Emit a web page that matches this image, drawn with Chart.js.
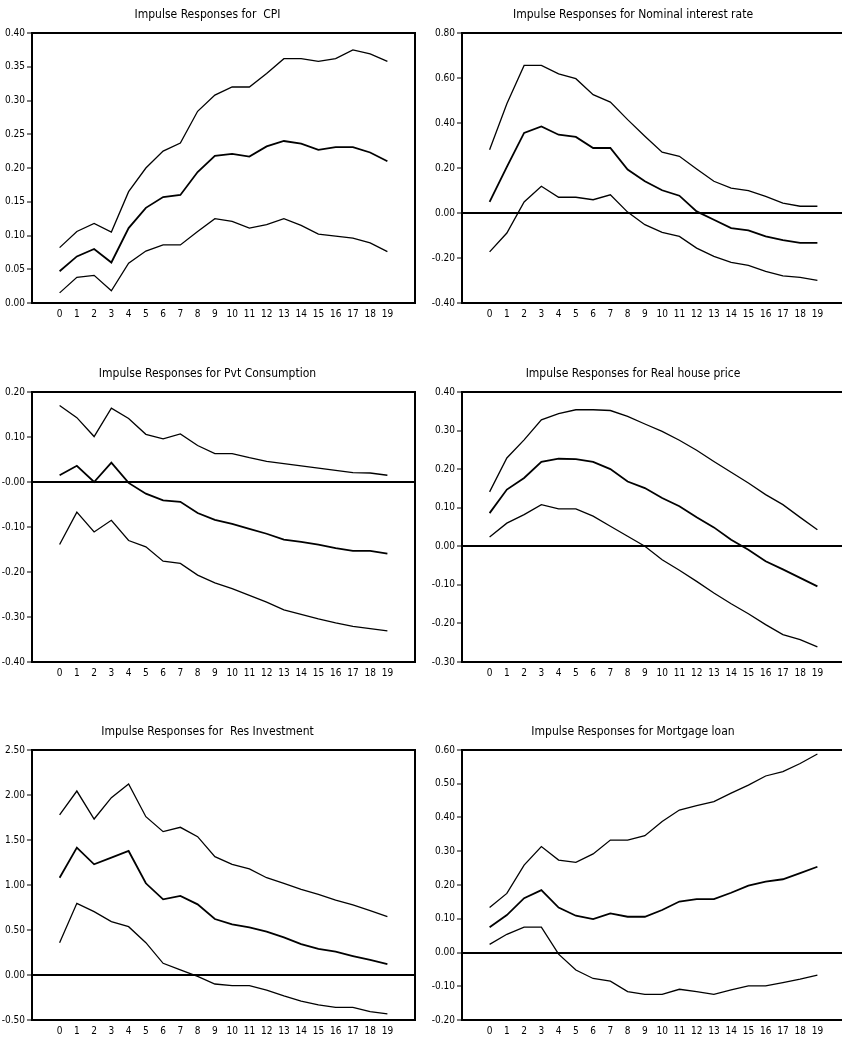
<!DOCTYPE html>
<html><head><meta charset="utf-8">
<script src="https://cdn.jsdelivr.net/npm/chart.js@4/dist/chart.umd.min.js"></script>
<style>
html,body{margin:0;padding:0;background:#fff;overflow:hidden;width:842px;height:1043px;position:relative;}
canvas{position:absolute;}
</style></head><body>
<canvas id="c1" style="left:0;top:0" width="421" height="326"></canvas>
<canvas id="c2" style="left:421px;top:0" width="430" height="326"></canvas>
<canvas id="c3" style="left:0;top:359px" width="421" height="326"></canvas>
<canvas id="c4" style="left:421px;top:359px" width="430" height="326"></canvas>
<canvas id="c5" style="left:0;top:717px" width="421" height="326"></canvas>
<canvas id="c6" style="left:421px;top:717px" width="430" height="326"></canvas>
<script>
const horizons = [0,1,2,3,4,5,6,7,8,9,10,11,12,13,14,15,16,17,18,19];
const xTickLabels = ['0','1','2','3','4','5','6','7','8','9','10','11','12','13','14','15','16','17','18','19'];

const cpiUpper = [0.082,0.106,0.118,0.105,0.165,0.200,0.225,0.237,0.284,0.308,0.320,0.320,0.340,0.362,0.362,0.358,0.362,0.375,0.369,0.358];
const cpiMid   = [0.047,0.069,0.080,0.060,0.111,0.141,0.157,0.160,0.194,0.218,0.221,0.217,0.232,0.240,0.236,0.227,0.231,0.231,0.223,0.210];
const cpiLower = [0.015,0.038,0.041,0.018,0.059,0.077,0.086,0.086,0.106,0.125,0.121,0.111,0.116,0.125,0.115,0.102,0.099,0.096,0.089,0.076];
const cpiTicks = [0,0.05,0.10,0.15,0.20,0.25,0.30,0.35,0.40];
const cpiTickLabels = ['0.00','0.05','0.10','0.15','0.20','0.25','0.30','0.35','0.40'];

const rateUpper = [0.281,0.486,0.656,0.656,0.618,0.597,0.526,0.493,0.415,0.341,0.270,0.252,0.196,0.141,0.111,0.099,0.074,0.044,0.030,0.030];
const rateMid   = [0.049,0.205,0.356,0.385,0.348,0.338,0.289,0.289,0.193,0.141,0.101,0.077,0.007,-0.030,-0.067,-0.077,-0.104,-0.121,-0.133,-0.133];
const rateLower = [-0.173,-0.089,0.049,0.119,0.070,0.070,0.059,0.081,0.004,-0.052,-0.086,-0.104,-0.156,-0.193,-0.219,-0.233,-0.259,-0.279,-0.286,-0.299];
const rateTicks = [-0.4,-0.2,0,0.2,0.4,0.6,0.8];
const rateTickLabels = ['-0.40','-0.20','0.00','0.20','0.40','0.60','0.80'];

const consUpper = [0.170,0.143,0.101,0.164,0.141,0.106,0.096,0.107,0.081,0.063,0.063,0.054,0.046,0.041,0.036,0.031,0.026,0.021,0.020,0.015];
const consMid   = [0.015,0.036,0.000,0.043,-0.002,-0.026,-0.041,-0.044,-0.069,-0.084,-0.093,-0.104,-0.115,-0.128,-0.133,-0.139,-0.147,-0.153,-0.153,-0.159];
const consLower = [-0.139,-0.067,-0.111,-0.085,-0.130,-0.144,-0.176,-0.181,-0.207,-0.224,-0.237,-0.252,-0.267,-0.284,-0.294,-0.304,-0.313,-0.321,-0.326,-0.331];
const consTicks = [-0.4,-0.3,-0.2,-0.1,0,0.1,0.2];
const consTickLabels = ['-0.40','-0.30','-0.20','-0.10','-0.00','0.10','0.20'];

const houseUpper = [0.141,0.229,0.276,0.328,0.344,0.354,0.354,0.352,0.337,0.317,0.298,0.275,0.249,0.220,0.192,0.164,0.134,0.108,0.075,0.043];
const houseMid   = [0.086,0.147,0.177,0.219,0.227,0.226,0.219,0.200,0.168,0.151,0.125,0.104,0.075,0.049,0.017,-0.009,-0.039,-0.060,-0.082,-0.104];
const houseLower = [0.024,0.060,0.082,0.108,0.097,0.097,0.078,0.052,0.026,0.000,-0.035,-0.062,-0.091,-0.121,-0.149,-0.175,-0.203,-0.229,-0.242,-0.261];
const houseTicks = [-0.3,-0.2,-0.1,0,0.1,0.2,0.3,0.4];
const houseTickLabels = ['-0.30','-0.20','-0.10','0.00','0.10','0.20','0.30','0.40'];

const invUpper = [1.78,2.044,1.733,1.970,2.122,1.759,1.593,1.641,1.537,1.315,1.230,1.178,1.081,1.019,0.952,0.896,0.833,0.778,0.715,0.648];
const invMid   = [1.081,1.415,1.230,1.304,1.378,1.019,0.841,0.878,0.785,0.622,0.563,0.530,0.481,0.419,0.344,0.289,0.259,0.211,0.167,0.122];
const invLower = [0.359,0.796,0.704,0.593,0.537,0.359,0.130,0.056,-0.015,-0.100,-0.119,-0.119,-0.167,-0.233,-0.289,-0.333,-0.359,-0.359,-0.407,-0.433];
const invTicks = [-0.5,0,0.5,1.0,1.5,2.0,2.5];
const invTickLabels = ['-0.50','0.00','0.50','1.00','1.50','2.00','2.50'];

const loanUpper = [0.133,0.175,0.259,0.314,0.274,0.267,0.292,0.333,0.333,0.346,0.388,0.422,0.435,0.447,0.472,0.496,0.523,0.536,0.560,0.588];
const loanMid   = [0.075,0.111,0.161,0.185,0.133,0.109,0.099,0.116,0.106,0.106,0.126,0.151,0.158,0.158,0.177,0.198,0.210,0.217,0.235,0.254];
const loanLower = [0.024,0.054,0.075,0.075,-0.005,-0.052,-0.077,-0.085,-0.116,-0.124,-0.124,-0.109,-0.116,-0.124,-0.111,-0.099,-0.099,-0.089,-0.079,-0.067];
const loanTicks = [-0.2,-0.1,0,0.1,0.2,0.3,0.4,0.5,0.6];
const loanTickLabels = ['-0.20','-0.10','0.00','0.10','0.20','0.30','0.40','0.50','0.60'];

const FONT = "'Liberation Sans Narrow','DejaVu Sans Condensed','Arial Narrow',sans-serif";
Chart.defaults.color = '#000';
Chart.defaults.font.family = FONT;

function makePanel(id, title, upper, mid, lower, yTicks, yLabels, isLeft) {
  const toPts = arr => arr.map((v, i) => ({x: horizons[i], y: v}));
  const ymin = yTicks[0], ymax = yTicks[yTicks.length - 1];
  const isRef = v => Math.abs(v) < 1e-9 || Math.abs(v - ymax) < 1e-9;
  new Chart(document.getElementById(id), {
    type: 'line',
    data: {
      datasets: [upper, mid, lower].map((arr, k) => ({
        data: toPts(arr), borderColor: '#000', borderWidth: k === 1 ? 1.8 : 1.3,
        pointRadius: 0, tension: 0, fill: false
      }))
    },
    options: {
      responsive: false, animation: false, events: [],
      layout: {padding: {left: 0, right: 6, top: 0, bottom: 0}},
      plugins: {
        legend: {display: false}, tooltip: {enabled: false},
        title: {display: true, text: title, color: '#000',
          font: {family: FONT, size: 12, weight: 'normal'},
          padding: {top: 8, bottom: 10.6}}
      },
      scales: {
        x: {
          type: 'linear', min: -1.6, max: 20.6,
          afterBuildTicks: s => { s.ticks = horizons.map(v => ({value: v})); },
          grid: {display: false, drawTicks: false},
          border: {display: true, color: '#000', width: 2},
          ticks: {autoSkip: false, maxRotation: 0, padding: 5, color: '#000',
            font: {family: FONT, size: 10}, callback: (v, i) => xTickLabels[i]},
          afterFit: s => { s.height = 23; }
        },
        y: {
          type: 'linear', min: ymin, max: ymax,
          afterBuildTicks: s => { s.ticks = yTicks.map(v => ({value: v})); },
          grid: {
            color: c => isRef(c.tick.value) ? '#000' : 'rgba(0,0,0,0)',
            lineWidth: c => isRef(c.tick.value) ? 2 : 0,
            drawTicks: true, tickLength: 5, tickColor: '#000', tickWidth: 1
          },
          border: {display: true, color: '#000', width: 2},
          ticks: {padding: 2, color: '#000', font: {family: FONT, size: 10},
            callback: (v, i) => yLabels[i]},
          afterFit: s => { s.width = isLeft ? 32 : 41; }
        },
        y2: {
          type: 'linear', position: 'right', display: isLeft,
          grid: {display: false, drawTicks: false},
          ticks: {display: false},
          border: {display: true, color: '#000', width: 2},
          afterFit: s => { s.width = 0; }
        }
      }
    }
  });
}

makePanel('c1', 'Impulse Responses for  CPI', cpiUpper, cpiMid, cpiLower, cpiTicks, cpiTickLabels, true);
makePanel('c2', 'Impulse Responses for Nominal interest rate', rateUpper, rateMid, rateLower, rateTicks, rateTickLabels, false);
makePanel('c3', 'Impulse Responses for Pvt Consumption', consUpper, consMid, consLower, consTicks, consTickLabels, true);
makePanel('c4', 'Impulse Responses for Real house price', houseUpper, houseMid, houseLower, houseTicks, houseTickLabels, false);
makePanel('c5', 'Impulse Responses for  Res Investment', invUpper, invMid, invLower, invTicks, invTickLabels, true);
makePanel('c6', 'Impulse Responses for Mortgage loan', loanUpper, loanMid, loanLower, loanTicks, loanTickLabels, false);
</script>
</body></html>
